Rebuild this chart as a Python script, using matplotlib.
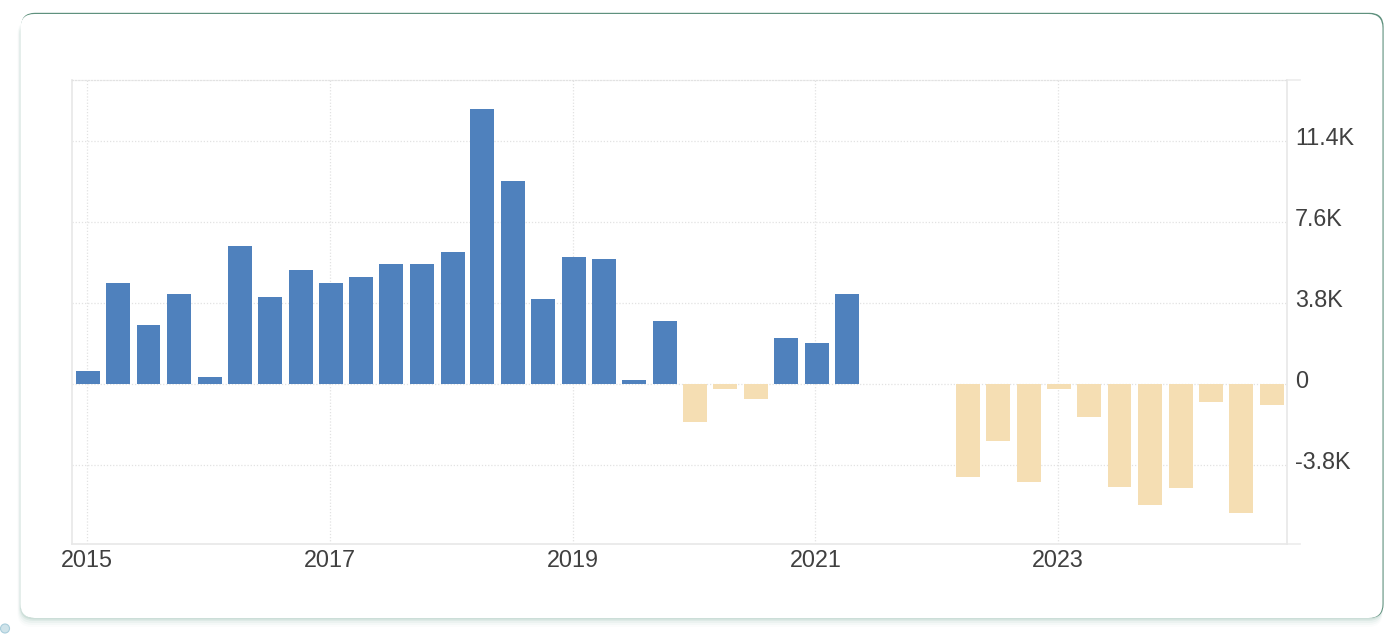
import matplotlib
matplotlib.use("Agg")
import matplotlib.pyplot as plt
import matplotlib.dates as mdates
import matplotlib.transforms as mtrans
from matplotlib.patches import Circle, FancyBboxPatch
import pandas as pd

W, H = 1400, 635

quarters = pd.date_range("2015-01-01", periods=40, freq="QS")
values = [
    0.60, 4.74, 2.77, 4.22,
    0.33, 6.50, 4.08, 5.35,
    4.74, 5.00, 5.63, 5.63,
    6.20, 12.90, 9.53, 4.00,
    5.96, 5.87, 0.20, 2.96,
    -1.78, -0.25, -0.70, 2.16,
    1.92, 4.22, 0.0, 0.0,
    0.0, -4.37, -2.68, -4.60,
    -0.25, -1.55, -4.84, -5.68,
    -4.88, -0.85, -6.06, -0.99,
]
y_ticks = [-3.8, 0, 3.8, 7.6, 11.4]
y_labels = ["-3.8K", "0", "3.8K", "7.6K", "11.4K"]
x_years = ["2015", "2017", "2019", "2021", "2023"]

BLUE = "#4f81bd"
SAND = "#f5deb3"
GRID = "#e2e2e2"
TEXT = "#404040"

plt.rcParams["font.family"] = ["Liberation Sans", "DejaVu Sans"]

fig = plt.figure(figsize=(W / 100, H / 100), dpi=100, facecolor="white")

# card behind the chart, drawn in pixel coordinates
bg = fig.add_axes([0, 0, 1, 1], zorder=0)
bg.set_xlim(0, W)
bg.set_ylim(H, 0)
bg.axis("off")

# soft shadow, stronger towards the bottom and left
for grow, alpha in [(9, 0.025), (7, 0.04), (5, 0.06), (3, 0.09), (1.5, 0.14)]:
    bg.add_patch(FancyBboxPatch((20.5 - grow / 3, 20), 1362 + grow / 3, 598 + grow,
                                boxstyle="round,pad=0,rounding_size=14",
                                fc="#5f9a88", ec="none", alpha=alpha))
# darker rim shows along the top and right only
bg.add_patch(FancyBboxPatch((21, 12.8), 1362.6, 605.2,
                            boxstyle="round,pad=0,rounding_size=14",
                            fc="#5f917e", ec="none"))
bg.add_patch(FancyBboxPatch((20.5, 14), 1362, 604,
                            boxstyle="round,pad=0,rounding_size=14",
                            fc="white", ec="none"))
bg.add_patch(Circle((5, 628.5), 4.5, fc="#cfe3ea", ec="#a9cddb", lw=0.8))

# plot area
ax = fig.add_axes([72 / W, 1 - 544 / H, (1287 - 72) / W, (544 - 80) / H], zorder=1)
ax.patch.set_alpha(0)

# bars sit slightly right of the year grid lines in the original
bar_dates = quarters + pd.Timedelta(days=4)
colors = [BLUE if v >= 0 else SAND for v in values]
ax.bar(bar_dates, values, width=72, color=colors, zorder=3)

px_day = 971 / 2922
ax.set_xlim(quarters[0] - pd.Timedelta(days=15 / px_day),
            quarters[0] + pd.Timedelta(days=(1287 - 87) / px_day))
ax.set_ylim(-7.51, 14.27)

ax.set_xticks([pd.Timestamp(y + "-01-01") for y in x_years])
ax.xaxis.set_major_formatter(mdates.DateFormatter("%Y"))
ax.set_yticks(y_ticks)
ax.set_yticklabels(y_labels)
ax.yaxis.tick_right()

ax.grid(True, color=GRID, lw=0.9, ls=(0, (1, 1.5)), zorder=0)
ax.tick_params(axis="x", length=0, pad=3.5, labelsize=16.8, labelcolor=TEXT)
ax.tick_params(axis="y", length=0, pad=5.8, labelsize=16.8, labelcolor=TEXT)

# y labels sit a little above their grid lines
shift = mtrans.ScaledTranslation(0, 5 / 100, fig.dpi_scale_trans)
for lab in ax.get_yticklabels():
    lab.set_transform(lab.get_transform() + shift)
    lab.set_horizontalalignment("left")

for side in ["left", "right", "bottom"]:
    ax.spines[side].set_color("#e8e8e8")
    ax.spines[side].set_linewidth(1.2)
ax.spines["top"].set_color(GRID)
ax.spines["top"].set_linestyle((0, (1, 1.5)))
ax.spines["top"].set_linewidth(0.9)

# short stubs of the top and bottom lines past the right edge
for y_frac in [0, 1]:
    ax.plot([1.0, 1.011], [y_frac, y_frac], transform=ax.transAxes,
            color="#ececec", lw=1.2, clip_on=False)

fig.savefig("out.png", dpi=100)
